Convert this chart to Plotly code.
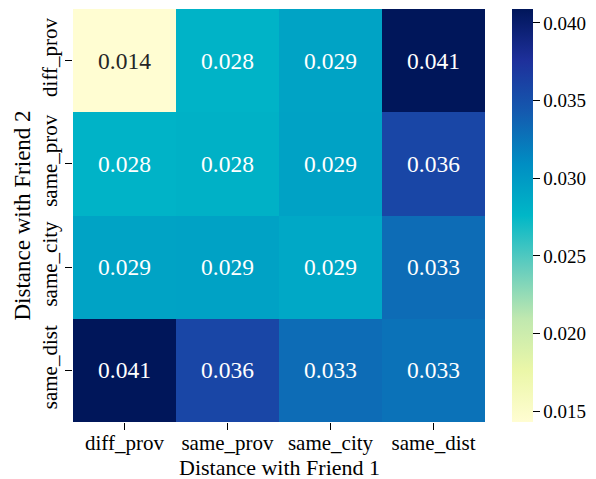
import plotly.graph_objects as go

# Category labels for both friends
friend1_cats = ["diff_prov", "same_prov", "same_city", "same_dist"]
friend2_cats = ["diff_prov", "same_prov", "same_city", "same_dist"]

# Rows follow friend2_cats (top to bottom), columns follow friend1_cats
row_diff_prov = [0.0143, 0.0279, 0.0292, 0.0409]
row_same_prov = [0.0279, 0.0281, 0.0293, 0.0358]
row_same_city = [0.0292, 0.0293, 0.0288, 0.0331]
row_same_dist = [0.0409, 0.0358, 0.0331, 0.0327]

cb_ticks = [0.015, 0.020, 0.025, 0.030, 0.035, 0.040]

z = [row_diff_prov, row_same_prov, row_same_city, row_same_dist]
zmin = min(min(r) for r in z)
zmax = max(max(r) for r in z)

# Yellow-green-blue ramp (vivid variant)
ylgnbu = ["rgb(255,253,210)", "rgb(235,247,168)", "rgb(192,232,175)",
          "rgb(100,205,190)", "rgb(0,183,199)", "rgb(0,142,195)",
          "rgb(20,90,175)", "rgb(30,48,155)", "rgb(0,22,90)"]
scale = [[i / (len(ylgnbu) - 1), c] for i, c in enumerate(ylgnbu)]

font_family = "Liberation Serif"

fig = go.Figure(go.Heatmap(
    z=z, x=friend1_cats, y=friend2_cats,
    colorscale=scale, zmin=zmin, zmax=zmax,
    xgap=0, ygap=0,
    colorbar=dict(
        x=1.0655, xanchor="left", xpad=0, ypad=0,
        y=0, yanchor="bottom", len=1, lenmode="fraction",
        thickness=21, outlinewidth=0,
        tickvals=cb_ticks, ticktext=[f"{t:.3f}" for t in cb_ticks],
        ticks="outside", ticklen=7, tickwidth=1.3, tickcolor="black",
        tickfont=dict(size=19, family=font_family, color="black"),
    ),
))

# Cell value labels: dark text on the lightest cells, white elsewhere
annotations = []
for yi, row in enumerate(z):
    for xi, v in enumerate(row):
        frac = (v - zmin) / (zmax - zmin)
        color = "#262626" if frac < 0.3 else "white"
        annotations.append(dict(
            x=friend1_cats[xi], y=friend2_cats[yi], text=f"{v:.3f}",
            showarrow=False, font=dict(size=23.5, family=font_family, color=color),
        ))

# x-axis title placed below the tick labels
annotations.append(dict(
    text="Distance with Friend 1", xref="paper", yref="paper",
    x=0.5, y=0, xanchor="center", yanchor="middle", yshift=-45,
    showarrow=False, font=dict(size=22, family=font_family, color="black"),
))

fig.update_layout(
    width=596, height=479,
    margin=dict(l=73, r=111, t=9, b=57),
    paper_bgcolor="white", plot_bgcolor="white",
    font=dict(family=font_family, color="black"),
    annotations=annotations,
    xaxis=dict(
        automargin=False, ticklabelstandoff=-5,
        tickfont=dict(size=21), ticks="outside", ticklen=7, tickwidth=1.3,
        tickcolor="black", showgrid=False, zeroline=False, showline=False,
    ),
    yaxis=dict(
        title=dict(text="Distance with Friend 2", font=dict(size=23), standoff=0),
        automargin=False,
        tickfont=dict(size=21), ticks="outside", ticklen=7, tickwidth=1.3,
        tickcolor="black", tickangle=-90, autorange="reversed",
        showgrid=False, zeroline=False, showline=False,
    ),
)

fig.write_html("out.html")
